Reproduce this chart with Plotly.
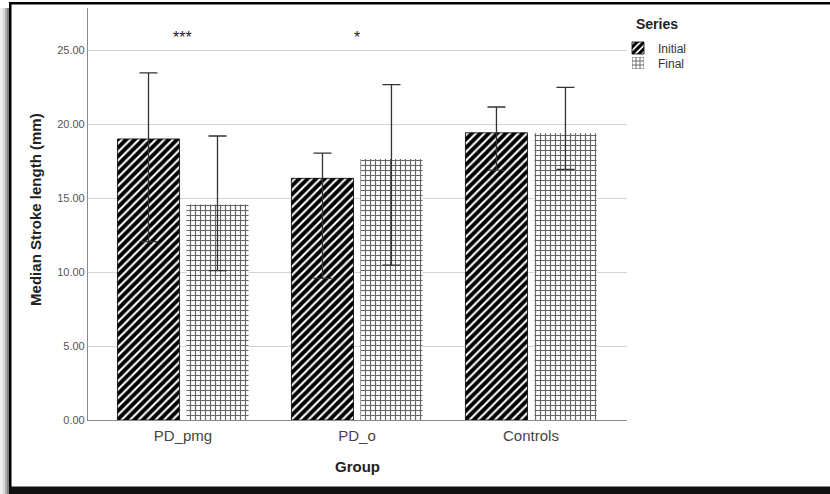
import plotly.graph_objects as go

# ---- data ----
groups = ["PD_pmg", "PD_o", "Controls"]
initial_vals = [18.99, 16.33, 19.41]
initial_hi = [23.45, 18.04, 21.15]
initial_lo = [12.05, 9.57, 16.89]
final_vals = [14.57, 17.64, 19.38]
final_hi = [19.19, 22.66, 22.48]
final_lo = [10.09, 10.47, 16.94]
sig_groups = ["PD_pmg", "PD_o"]
sig_marks = ["***", "*"]

W, H = 830, 494
L, R, T, B = 88, 627, 8, 420  # plot area in px

def px(x):
    return (x - L) / (R - L)

def py(y):
    return (B - y) / (B - T)

FONT = "Liberation Sans, Arial, sans-serif"

def err(vals, hi, lo):
    return dict(type="data", symmetric=False,
                array=[h - v for v, h in zip(vals, hi)],
                arrayminus=[v - l for v, l in zip(vals, lo)],
                color="#333333", thickness=1.3, width=9)

fig = go.Figure()
fig.add_trace(go.Bar(
    name="Initial", x=groups, y=initial_vals, legend="legend", showlegend=True,
    marker=dict(color="white", line=dict(color="black", width=0.8),
                pattern=dict(shape="/", fgcolor="black", bgcolor="white", fgopacity=1,
                             size=6, solidity=0.65)),
    error_y=err(initial_vals, initial_hi, initial_lo)))
fig.add_trace(go.Bar(
    name="Final", x=groups, y=final_vals, legend="legend2", showlegend=True,
    marker=dict(color="white", line=dict(width=0),
                pattern=dict(shape="+", fgcolor="#666666", bgcolor="white", fgopacity=1,
                             size=5, solidity=0.42)),
    error_y=err(final_vals, final_hi, final_lo)))

annotations = []
for g, m in zip(sig_groups, sig_marks):
    annotations.append(dict(x=g, y=25.85, xref="x", yref="y", text=m, yanchor="middle",
                            showarrow=False, font=dict(size=16, color="#222", family=FONT)))
annotations.append(dict(x=0, xref="paper", xshift=-52, xanchor="center", y=0.51, yref="paper",
                        text="<b>Median Stroke length (mm)</b>", textangle=-90,
                        showarrow=False, font=dict(size=15, color="#222", family=FONT)))
annotations.append(dict(x=0.5, xref="paper", y=py(466), yref="paper", yanchor="middle",
                        text="<b>Group</b>", showarrow=False,
                        font=dict(size=15, color="#222", family=FONT)))
annotations.append(dict(x=px(634), xref="paper", xanchor="left", y=py(24), yref="paper",
                        yanchor="middle", text="<b>Series</b>", showarrow=False,
                        font=dict(size=14, color="#222", family=FONT)))

shapes = []
def rect(x0, y0, x1, y1, color):
    shapes.append(dict(type="rect", xref="paper", yref="paper",
                       x0=px(x0), x1=px(x1), y0=py(y0), y1=py(y1),
                       fillcolor=color, line=dict(width=0), layer="above"))

# drop shadow on left
rect(0, 8, 3, 494, "#eeeeee")
rect(3, 8, 5, 494, "#d6d6d6")
rect(5, 8, 7, 494, "#b0b0b0")
rect(7, 8, 9, 494, "#808080")
# frame
rect(9, 2, 830, 4.5, "black")
rect(9, 2, 11.5, 488, "black")
rect(9, 486.5, 830, 494, "#111111")

leg_common = dict(xanchor="left", yanchor="middle", itemwidth=30,
                  font=dict(size=12, color="#333", family=FONT),
                  bgcolor="rgba(0,0,0,0)", borderwidth=0, visible=True)

fig.update_layout(
    width=W, height=H, showlegend=True,
    margin=dict(l=L, r=W - R, t=T, b=H - B, autoexpand=False),
    paper_bgcolor="white", plot_bgcolor="white",
    barmode="group", bargap=0.207, bargroupgap=0.1,
    font=dict(family=FONT, color="#333"),
    xaxis=dict(range=[-0.546, 2.552], showline=True, linecolor="#8a8a8a", linewidth=1.2,
               ticks="outside", ticklen=2, tickcolor="rgba(0,0,0,0)",
               tickfont=dict(size=15, color="#444", family=FONT), showgrid=False),
    yaxis=dict(range=[0, 27.84], dtick=5, tickformat=".2f", showline=True,
               linecolor="#8a8a8a", linewidth=1.2, gridcolor="#d4d4d4", gridwidth=1,
               zeroline=False, ticks="", tickfont=dict(size=11, color="#555", family=FONT)),
    legend=dict(x=px(618), y=py(48), **leg_common),
    legend2=dict(x=px(618), y=py(63), **leg_common),
    annotations=annotations, shapes=shapes,
)
fig.write_html("out.html", post_script="document.body.style.margin='0';",
               config={"displayModeBar": False})
